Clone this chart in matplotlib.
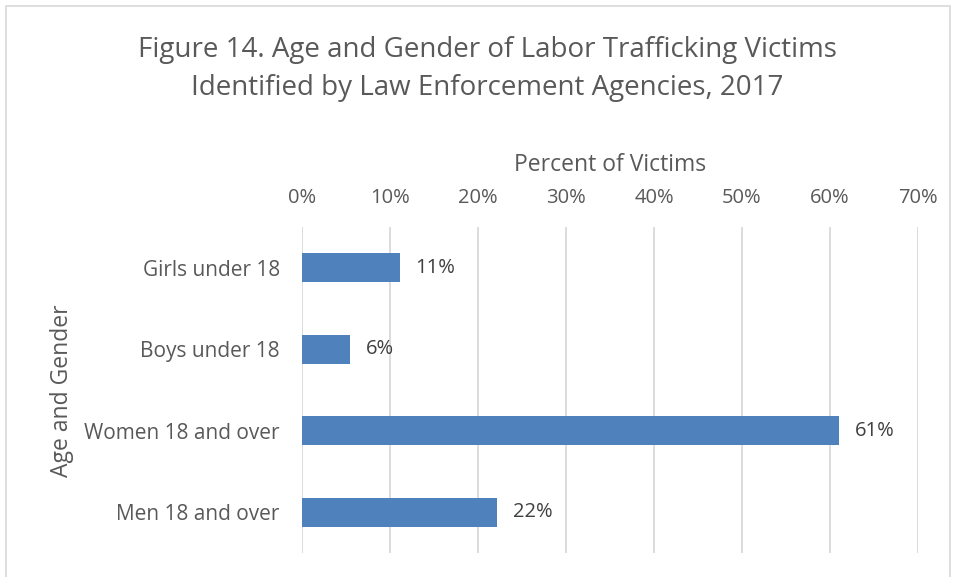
import numpy as np
import matplotlib.pyplot as plt
from matplotlib.patches import Rectangle

categories = ["Girls under 18", "Boys under 18", "Women 18 and over", "Men 18 and over"]
percent = [11.1, 5.5, 61.0, 22.2]
labels = ["11%", "6%", "61%", "22%"]
xticks = [0, 10, 20, 30, 40, 50, 60, 70]

plt.rcParams['font.family'] = ['Open Sans', 'DejaVu Sans']
grey = "#595959"

fig = plt.figure(figsize=(9.56, 5.77), dpi=100)
W, H = 956, 577
ax = fig.add_axes([302 / W, 1 - 553 / H, (918 - 302) / W, (553 - 227) / H])

y = np.arange(len(categories))
ax.barh(y, percent, height=0.36, color="#4F81BD", zorder=3)
for yi, v, lab in zip(y, percent, labels):
    ax.text(v + 1.8, yi, lab, va="center", ha="left", fontsize=14.5, color="#404040")

ax.set_ylim(len(categories) - 0.5, -0.5)
ax.set_xlim(0, 70)
ax.set_yticks(y)
ax.set_yticklabels(categories, fontsize=15, color=grey)
ax.set_xticks(xticks)
ax.set_xticklabels([f"{t}%" for t in xticks], fontsize=14.5, color=grey)
ax.xaxis.tick_top()
ax.xaxis.set_label_position("top")
ax.tick_params(length=0, pad=14)
ax.tick_params(axis="y", pad=16)
ax.grid(axis="x", color="#D9D9D9", linewidth=1.3, zorder=0)
for s in ax.spines.values():
    s.set_visible(False)

ax.set_xlabel("Percent of Victims", fontsize=16.5, color=grey, labelpad=12)
fig.text(62 / W, 1 - 391 / H, "Age and Gender", rotation=90, fontsize=16.5,
         color=grey, ha="center", va="center")

fig.text(487 / W, 1 - 69 / H,
         "Figure 14. Age and Gender of Labor Trafficking Victims\nIdentified by Law Enforcement Agencies, 2017",
         fontsize=20, color=grey, ha="center", va="center", linespacing=1.5)

fig.patches.append(Rectangle((6 / W, -0.02), 1 - 12 / W, 1.02 - 6 / H, transform=fig.transFigure,
                             fill=False, edgecolor="#D9D9D9", linewidth=1.2))

fig.savefig("out.png", dpi=100)
